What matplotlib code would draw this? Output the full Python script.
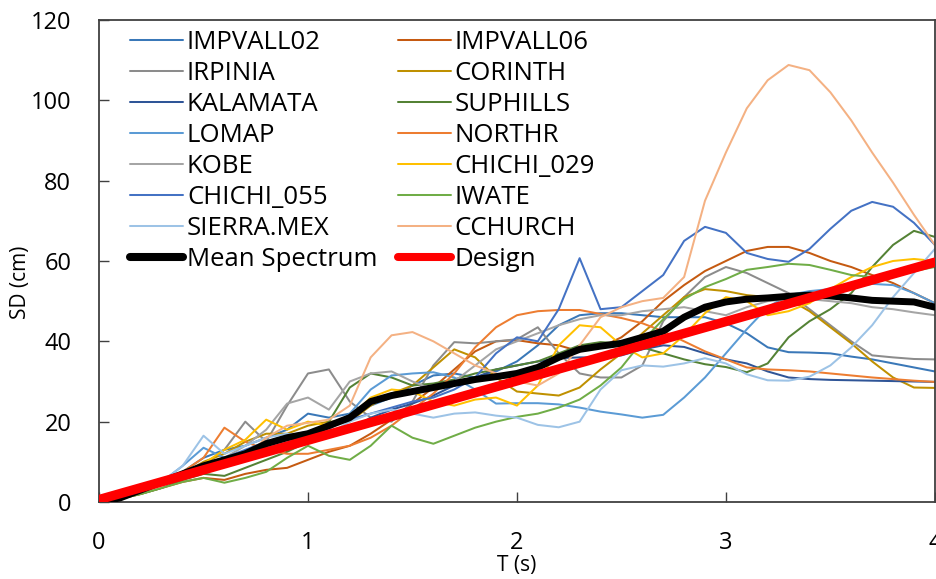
import matplotlib
matplotlib.use("Agg")
import matplotlib.pyplot as plt
from matplotlib.lines import Line2D

plt.rcParams['font.family'] = ['Open Sans', 'DejaVu Sans']

# Period axis (s), shared by every record
period = [round(0.1 * i, 1) for i in range(41)]

impvall02 = [0, 1, 2.5, 4.5, 7.5, 11, 13, 14, 16, 18, 22, 21, 22, 24, 26, 29, 31.5, 32, 31, 32.5,
             35, 39, 44, 46.5, 47, 47, 46.5, 46, 46, 46, 44.5, 42, 38.5, 37.3, 37.2, 37, 36.2, 35.5, 34.5, 33.5, 32.5]
impvall06 = [0, 0.8, 2, 3.5, 5, 6, 5.5, 7, 8, 8.5, 10.5, 12.5, 14, 17, 20.5, 24.5, 28.5, 33, 37.5, 40,
             40.3, 39.5, 39, 37.5, 38.5, 41, 45, 50, 54, 57.5, 60, 62.5, 63.5, 63.5, 62, 60, 58.5, 56.5, 54.5, 52, 49.5]
irpinia = [0, 1, 2.5, 4.5, 7, 9, 13, 20, 15, 24, 32, 33, 25, 21, 20, 25, 34, 39.8, 39.5, 40,
           40.5, 43.5, 37, 32, 31, 31, 34, 45, 51, 56, 58.5, 57, 54.5, 52, 48, 44, 40, 36.5, 36, 35.6, 35.5]
corinth = [0, 1, 2.5, 4.5, 7, 10, 12, 15, 17, 17, 19, 20, 20, 24, 27, 29, 33.5, 38, 36, 31,
           27.5, 27, 26.5, 28.5, 33, 37, 42, 46.5, 51, 53, 52.5, 51.5, 51, 50.5, 47.5, 43.5, 39.5, 35, 31, 28.5, 28.4]
kalamata = [0, 1, 2.5, 4.5, 6.5, 8.5, 10, 12, 13.5, 15, 16, 17.5, 18, 21, 23, 24.5, 26.5, 29, 31, 33,
            34, 35, 35.8, 36, 36, 36.5, 38, 39, 38.6, 37, 35.5, 34.5, 32.5, 31, 30.6, 30.4, 30.3, 30.2, 30.1, 30, 29.9]
suphills = [0, 0.8, 2, 3.5, 5.5, 7, 6.5, 8.5, 10.5, 12.5, 15, 20, 28.5, 32, 31, 29, 29.5, 30.5, 32, 33,
            34, 35, 37, 39, 39.8, 39.5, 38.5, 37, 35.5, 34.3, 33.6, 32.3, 34.5, 41, 45, 48, 52, 58.5, 64, 67.5, 66]
lomap = [0, 1, 2.5, 5, 9, 13.5, 11, 12.5, 14, 15, 16, 18, 22, 28, 31.5, 32, 32.3, 31, 28, 24.5,
         24.6, 24.6, 24.3, 23.5, 22.5, 21.8, 21, 21.7, 26, 31, 37, 43, 48.5, 51.5, 52.5, 53, 53.5, 54.3, 54, 52, 49.5]
northr = [0, 1, 2.5, 4.5, 7.5, 11, 18.5, 15, 13, 12, 12, 13, 14, 16, 19, 23, 27, 32, 38.5, 43.5,
          46.5, 47.5, 47.8, 47.8, 46.8, 45.8, 44.5, 42.5, 40, 37.5, 35.5, 33.5, 33, 32.8, 32.5, 32, 31.5, 31, 30.6, 30.2, 29.9]
kobe = [0, 1, 2.5, 4.5, 6, 8, 11, 14, 18, 24.5, 26, 23, 30, 32, 32.5, 30, 28, 30, 34, 38,
        40, 42, 44, 45.5, 46.5, 46.5, 47.5, 48, 48.5, 47.5, 46.5, 48.5, 50, 50.5, 50.5, 50, 49.5, 48.5, 48, 47.2, 46.5]
chichi_029 = [0, 1, 2.5, 4.5, 7, 9.5, 13, 15.5, 20.5, 18, 20, 19, 21, 26, 28, 27.5, 25, 24, 25.5, 26,
              24, 29, 39, 44, 43.5, 39, 36, 37, 41.5, 47, 51, 50, 46.5, 47.5, 49.5, 53, 56, 58.5, 60, 60.5, 60]
chichi_055 = [0, 1, 2.5, 5, 7, 9, 11, 13, 15, 16.5, 17.5, 19, 20.5, 22, 23.5, 25, 26, 28, 31, 37,
              41, 40, 48, 60.7, 48, 48.5, 52.5, 56.5, 65, 68.5, 67, 62, 60.5, 59.8, 63, 68, 72.5, 74.7, 73.5, 69.5, 64]
iwate = [0, 0.8, 2, 3.5, 5, 6, 4.8, 6, 7.5, 11, 14, 11.5, 10.5, 14, 19, 16, 14.5, 16.5, 18.5, 20,
         21.2, 22, 23.5, 25.5, 29, 33.5, 40, 45.5, 50.5, 53.5, 55.5, 57.8, 58.5, 59.3, 59, 57.8, 56.5, 56, 56.5, 57.5, 58.5]
sierra_mex = [0, 1, 2.5, 5, 9, 16.5, 12, 14, 16, 17, 16, 17, 20, 22, 23, 22, 21, 22, 22.3, 21.5,
              21, 19.2, 18.6, 20, 28, 32.8, 34, 33.7, 34.5, 35.8, 34.5, 31.8, 30.3, 30.2, 31.2, 34, 38.5, 44, 51, 57, 63]
cchurch = [0, 1, 2.5, 4, 6, 7.5, 9, 11, 16, 19, 19.7, 20.5, 24, 36, 41.5, 42.3, 40, 37, 34, 32,
           30, 29, 32, 39, 46, 48.5, 50, 50.8, 56, 75, 87, 98, 105, 108.8, 107.5, 102, 95, 87, 79.5, 71.5, 64]
mean_spectrum = [0, 1, 3, 5, 7, 9, 10.5, 12, 14.5, 16, 17, 19, 21, 25, 26.5, 27.5, 28.5, 29.5, 30.5, 31.2,
                 32, 33.5, 36, 38, 38.8, 39.5, 41, 42.5, 46, 48.5, 49.8, 50.5, 50.8, 51.2, 51.5, 51.3, 50.8, 50.2, 50, 49.8, 48.5]
design_period = [0.0, 4.0]
design_sd = [0.6, 59.7]

records = ["IMPVALL02", "IMPVALL06", "IRPINIA", "CORINTH", "KALAMATA", "SUPHILLS", "LOMAP",
           "NORTHR", "KOBE", "CHICHI_029", "CHICHI_055", "IWATE", "SIERRA.MEX", "CCHURCH"]
record_sd = [impvall02, impvall06, irpinia, corinth, kalamata, suphills, lomap,
             northr, kobe, chichi_029, chichi_055, iwate, sierra_mex, cchurch]
record_colors = ["#3A78B8", "#C55A11", "#8C8C8C", "#BF9000", "#2F5597", "#548235", "#5B9BD5",
                 "#ED7D31", "#A5A5A5", "#FFC000", "#4472C4", "#70AD47", "#9DC3E6", "#F4B183"]

fig = plt.figure(figsize=(9.37, 5.79), dpi=100)
ax = fig.add_axes([0.1057, 0.133, 0.892, 0.8325])

handles = []
for name, sd, col in zip(records, record_sd, record_colors):
    h, = ax.plot(period, sd, color=col, lw=1.45, label=name, solid_joinstyle='round')
    handles.append(h)
hm, = ax.plot(period, mean_spectrum, color='black', lw=5.0, label="Mean Spectrum",
              solid_capstyle='round', solid_joinstyle='round', zorder=5)
hd, = ax.plot(design_period, design_sd, color='#FF0000', lw=6.8, label="Design",
              solid_capstyle='round', zorder=6)
handles += [hm, hd]

ax.set_xlim(0, 4)
ax.set_ylim(0, 120)
ax.set_xticks([0, 1, 2, 3, 4])
ax.set_yticks(range(0, 121, 20))
ax.tick_params(direction='in', length=7, width=1.0, labelsize=17, color='#404040')
ax.tick_params(axis='y', pad=20)
ax.tick_params(axis='x', pad=21)
for s in ax.spines.values():
    s.set_color('#404040')
    s.set_linewidth(1.3)

ax.set_xlabel("T (s)", fontsize=15)
ax.set_ylabel("SD (cm)", fontsize=15)
ax.xaxis.set_label_coords(0.5, -0.11)
ax.yaxis.set_label_coords(-0.082, 0.455)

# two-column legend filled row by row
order = list(range(0, 16, 2)) + list(range(1, 16, 2))
leg_handles = []
for i in order:
    h = handles[i]
    leg_handles.append(Line2D([], [], color=h.get_color(),
                              lw=(h.get_linewidth() if i < 14 else 5.8),
                              solid_capstyle='round', label=h.get_label()))
ax.legend(handles=leg_handles, ncol=2, loc='upper left', bbox_to_anchor=(0.025, 1.0),
          frameon=False, fontsize=18.5, handlelength=2.06, handletextpad=0.15,
          labelspacing=0.23, columnspacing=0.8, borderaxespad=0.0)

fig.savefig("out.png", dpi=100)
